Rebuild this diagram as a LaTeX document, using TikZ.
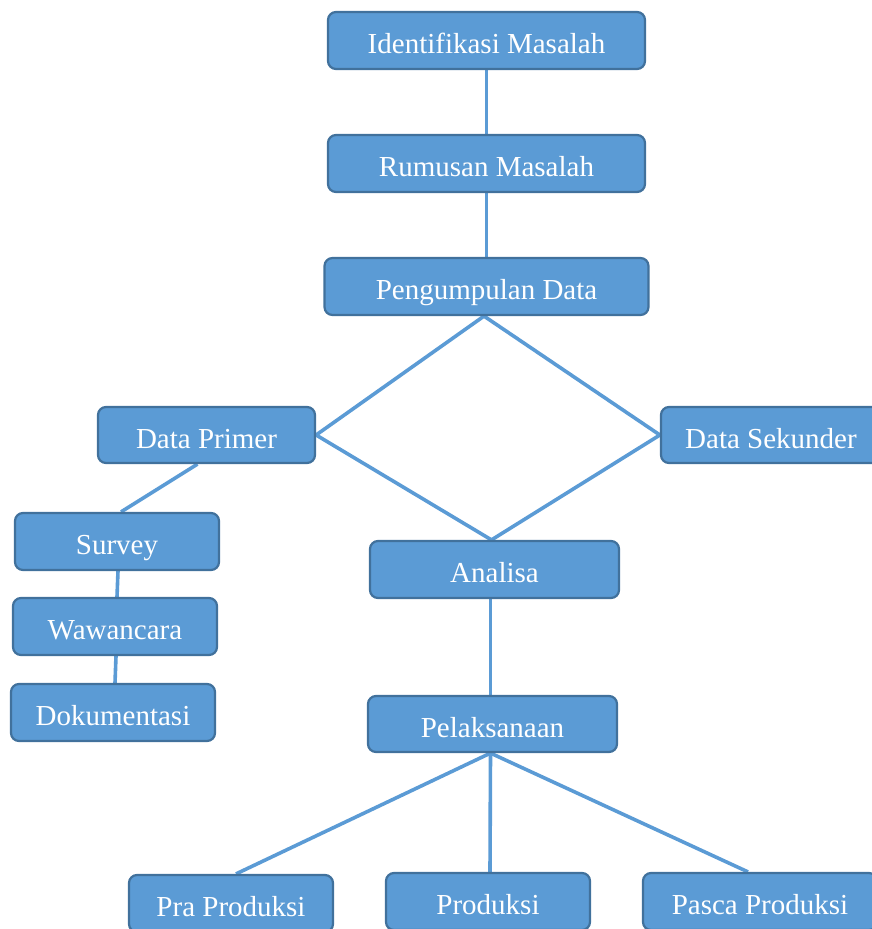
\documentclass[tikz,border=0pt]{standalone}
\usepackage{fontspec}
\setmainfont{Liberation Serif}
\usetikzlibrary{backgrounds}
\definecolor{boxfill}{HTML}{5B9BD5}
\definecolor{boxedge}{HTML}{41719C}
\definecolor{linecol}{HTML}{5B9BD5}
\begin{document}
\begin{tikzpicture}[x=1pt,y=-1pt,
  box/.style={draw=boxedge,fill=boxfill,line width=2.2pt,rounded corners=8pt,
    inner sep=0pt,text=white,text height=26pt,text depth=0pt,font=\fontsize{29}{34}\selectfont},
  conn/.style={draw=linecol,line width=3.6pt}]
\useasboundingbox (0,0) rectangle (872,929);
\clip (0,0) rectangle (872,929);
\path
  (486.5,40.5) node[box,minimum width=317pt,minimum height=57pt] (im) {Identifikasi Masalah}
  (486.5,163.5) node[box,minimum width=317pt,minimum height=57pt] (rm) {Rumusan Masalah}
  (486.5,286.5) node[box,minimum width=324pt,minimum height=57pt] (pd) {Pengumpulan Data}
  (206.5,435) node[box,minimum width=217pt,minimum height=56pt] (dp) {Data Primer}
  (771,435) node[box,minimum width=220pt,minimum height=56pt] (ds) {Data Sekunder}
  (117,541.5) node[box,minimum width=204pt,minimum height=57pt] (sv) {Survey}
  (115,626.5) node[box,minimum width=204pt,minimum height=57pt] (ww) {Wawancara}
  (113,712.5) node[box,minimum width=204pt,minimum height=57pt] (dk) {Dokumentasi}
  (494.5,569.5) node[box,minimum width=249pt,minimum height=57pt] (an) {Analisa}
  (492.5,724) node[box,minimum width=249pt,minimum height=56pt] (pl) {Pelaksanaan}
  (231,903.5) node[box,minimum width=204pt,minimum height=57pt] (pp) {Pra Produksi}
  (488,901.5) node[box,minimum width=204pt,minimum height=57pt] (pr) {Produksi}
  (760,901.5) node[box,minimum width=234pt,minimum height=57pt] (ps) {Pasca Produksi};
\begin{scope}[on background layer]
  \draw[conn] (im.south) -- (rm.north);
  \draw[conn] (rm.south) -- (pd.north);
  \draw[conn] ([xshift=-2.5pt]pd.south) -- (dp.east);
  \draw[conn] ([xshift=-2.5pt]pd.south) -- (ds.west);
  \draw[conn] (dp.east) -- ([xshift=-3pt]an.north);
  \draw[conn] (ds.west) -- ([xshift=-3pt]an.north);
  \draw[conn] ([xshift=-9pt]dp.south) -- ([xshift=4pt]sv.north);
  \draw[conn] ([xshift=1pt]sv.south) -- ([xshift=2pt]ww.north);
  \draw[conn] ([xshift=1pt]ww.south) -- ([xshift=2pt]dk.north);
  \draw[conn] ([xshift=-4pt]an.south) -- ([xshift=-2pt]pl.north);
  \draw[conn] ([xshift=-2pt]pl.south) -- ([xshift=5pt]pp.north);
  \draw[conn] ([xshift=-2pt]pl.south) -- ([xshift=2pt]pr.north);
  \draw[conn] ([xshift=-2pt]pl.south) -- ([xshift=-12pt]ps.north);
\end{scope}
\end{tikzpicture}
\end{document}
